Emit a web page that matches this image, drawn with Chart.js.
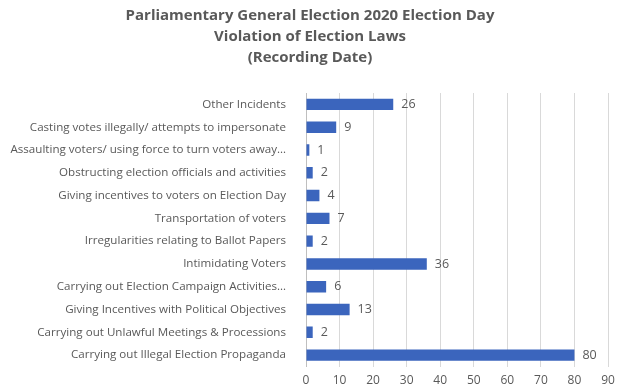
<!DOCTYPE html>
<html>
<head>
<meta charset="utf-8">
<script src="https://cdn.jsdelivr.net/npm/chart.js@4/dist/chart.umd.min.js"></script>
<style>
  html, body { margin: 0; padding: 0; background: #ffffff; }
  #wrap { width: 624px; height: 392px; }
</style>
</head>
<body>
<div id="wrap"><canvas id="c" width="624" height="392"></canvas></div>
<script>
const titleLines = [
  'Parliamentary General Election 2020 Election Day',
  'Violation of Election Laws',
  '(Recording Date)'
];

const categories = [
  'Other Incidents',
  'Casting votes illegally/ attempts to impersonate',
  'Assaulting voters/ using force to turn voters away\u2026',
  'Obstructing election officials and activities',
  'Giving incentives to voters on Election Day',
  'Transportation of voters',
  'Irregularities relating to Ballot Papers',
  'Intimidating Voters',
  'Carrying out Election Campaign Activities\u2026',
  'Giving Incentives with Political Objectives',
  'Carrying out Unlawful Meetings & Processions',
  'Carrying out Illegal Election Propaganda'
];

const incidents = [26, 9, 1, 2, 4, 7, 2, 36, 6, 13, 2, 80];

const xTicks = [0, 10, 20, 30, 40, 50, 60, 70, 80, 90];

const FONT = '"Open Sans", "Liberation Sans", Arial, sans-serif';
const TEXT = '#595959';

// Three-line heading, centred over the whole figure
const heading = {
  id: 'heading',
  afterDraw(chart) {
    const ctx = chart.ctx;
    ctx.save();
    ctx.font = 'bold 15px ' + FONT;
    ctx.fillStyle = TEXT;
    ctx.textAlign = 'center';
    ctx.textBaseline = 'middle';
    titleLines.forEach((line, i) => ctx.fillText(line, 310, 16 + i * 21));
    ctx.restore();
  }
};

// Writes each bar's value just past its end
const valueLabels = {
  id: 'valueLabels',
  afterDatasetsDraw(chart) {
    const ctx = chart.ctx;
    const meta = chart.getDatasetMeta(0);
    ctx.save();
    ctx.font = '12.5px ' + FONT;
    ctx.fillStyle = TEXT;
    ctx.textAlign = 'left';
    ctx.textBaseline = 'middle';
    meta.data.forEach((bar, i) => {
      ctx.fillText(String(incidents[i]), bar.x + 8, bar.y);
    });
    ctx.restore();
  }
};

new Chart(document.getElementById('c'), {
  type: 'bar',
  data: {
    labels: categories,
    datasets: [{
      data: incidents,
      backgroundColor: '#3b65bd',
      borderWidth: 0,
      barPercentage: 0.5,
      categoryPercentage: 1.0
    }]
  },
  options: {
    indexAxis: 'y',
    responsive: false,
    animation: false,
    layout: { padding: { left: 0, right: 16, top: 93, bottom: 0 } },
    plugins: {
      legend: { display: false },
      tooltip: { enabled: false },
      title: { display: false }
    },
    scales: {
      x: {
        min: 0,
        max: 90,
        afterBuildTicks(scale) { scale.ticks = xTicks.map(v => ({ value: v })); },
        afterFit(scale) { scale.height = 25.5; },
        grid: { color: '#d9d9d9', drawTicks: false },
        border: { display: false },
        ticks: { color: TEXT, font: { family: FONT, size: 12 }, padding: 6.5 }
      },
      y: {
        grid: { display: false },
        border: { display: true, color: '#bfbfbf' },
        afterFit(scale) { scale.width = 306; },
        ticks: { color: TEXT, font: { family: FONT, size: 11.6 }, padding: 12, autoSkip: false }
      }
    }
  },
  plugins: [valueLabels, heading]
});
</script>
</body>
</html>
